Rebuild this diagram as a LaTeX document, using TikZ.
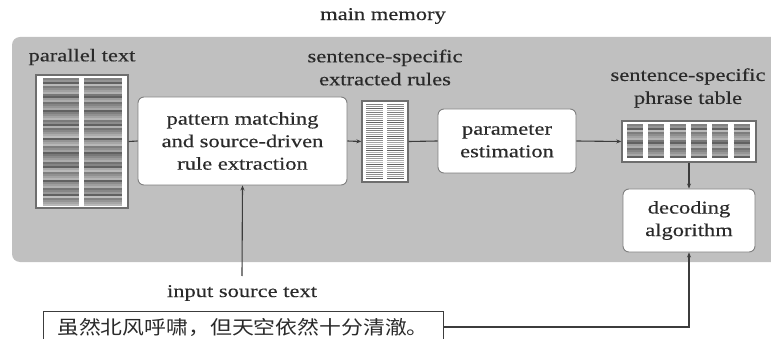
\documentclass[tikz,border=0pt]{standalone}
\usepackage{fontspec}
\setmainfont[FakeStretch=1.25,FakeBold=0.35]{Liberation Serif}
\newfontfamily\cjk[FakeStretch=1.15]{Noto Sans CJK SC}
\usetikzlibrary{arrows.meta}

\definecolor{panelgray}{HTML}{C0C0C0}
\definecolor{inkgray}{HTML}{3C3C3C}
\definecolor{txt}{HTML}{2A2A2A}
\definecolor{boxline}{HTML}{808080}
\definecolor{docline}{HTML}{6E6E6E}

% one column of text stripes inside a document icon: left, right, first y, second y, last y
\newcommand\stripecol[5]{%
  \foreach \yy [count=\c] in {#3,#4,...,#5}{%
    \pgfmathtruncatemacro\shade{ifthenelse(mod(\c,7)==3,62,26+mod(\c*23,30))}%
    \draw[line width=1.1pt, black!\shade] (#1,\yy) -- (#2,\yy);
  }}

\tikzset{
  lbl/.style={text=txt, font=\fontsize{18}{23}\selectfont, align=center, inner sep=0pt},
  procbox/.style={draw=boxline, line width=0.9pt, fill=white, rounded corners=6pt,
    text=txt, font=\fontsize{18}{22.5}\selectfont, align=center, inner sep=0pt},
  docbox/.style={draw=docline, line width=1.4pt, fill=white, inner sep=0pt},
  conn/.style={draw=inkgray, line width=1.1pt},
  arr/.style={conn, -{Stealth[length=5pt,width=4pt]}}
}

\begin{document}
\begin{tikzpicture}[x=1pt, y=-1pt]
\useasboundingbox (0,0) rectangle (771,339);
\clip (0,0) rectangle (771,339);

% main memory region
\fill[panelgray, rounded corners=8pt] (12,37) rectangle (790,262);
\node[lbl] (mem) at (383,16) {main memory};

% parallel text document
\node[lbl] (ptlabel) at (82,57) {parallel text};
\node[docbox, minimum width=92pt, minimum height=133pt] (ptext) at (82,141.5) {};
\stripecol{43}{79}{79}{81}{205}
\stripecol{84}{122}{79}{81}{205}

% extraction box
\node[procbox, minimum width=209pt, minimum height=88pt] (extract) at (242.5,141)
  {pattern matching\\and source-driven\\rule extraction};

% extracted rules document
\node[lbl] (rlabel) at (385,67.5) {sentence-specific\\extracted rules};
\node[docbox, minimum width=46pt, minimum height=81pt] (rules) at (385,141.5) {};
\stripecol{366}{383}{104.5}{106.5}{179}
\stripecol{387}{404}{104.5}{106.5}{179}

% parameter estimation box
\node[procbox, minimum width=138pt, minimum height=64pt] (param) at (507,141)
  {parameter\\estimation};

% phrase table document
\node[lbl] (tlabel) at (688,88) {sentence-specific\\phrase table};
\node[docbox, minimum width=134pt, minimum height=41pt] (table) at (689,141.5) {};
\foreach \cx in {627,648.3,669.6,690.9,712.2,733.5}{
  \stripecol{\cx}{\cx+16}{125}{127}{158.5}
}

% decoding box
\node[procbox, minimum width=132pt, minimum height=63pt] (decode) at (689,220.5)
  {decoding\\algorithm};

% input sentence
\node[lbl] (inlabel) at (242,293) {input source text};
\node[draw=inkgray, line width=1pt, fill=white, minimum width=400pt, minimum height=32pt,
  inner sep=0pt, text=txt, font=\cjk\fontsize{19}{22}\selectfont] (src) at (243,327)
  {虽然北风呼啸，但天空依然十分清澈。};
\coordinate (intop) at (242,276);

% connectors
\draw[conn] (ptext.east) -- (extract.west);
\draw[arr] (extract.east) -- (rules.west);
\draw[conn] (rules.east) -- (param.west);
\draw[arr] (param.east) -- (table.west);
\draw[arr] (table.south) -- (decode.north);
\draw[arr] (intop) -- (extract.south);
\draw[arr] (src.east) -| (decode.south);
\end{tikzpicture}
\end{document}
